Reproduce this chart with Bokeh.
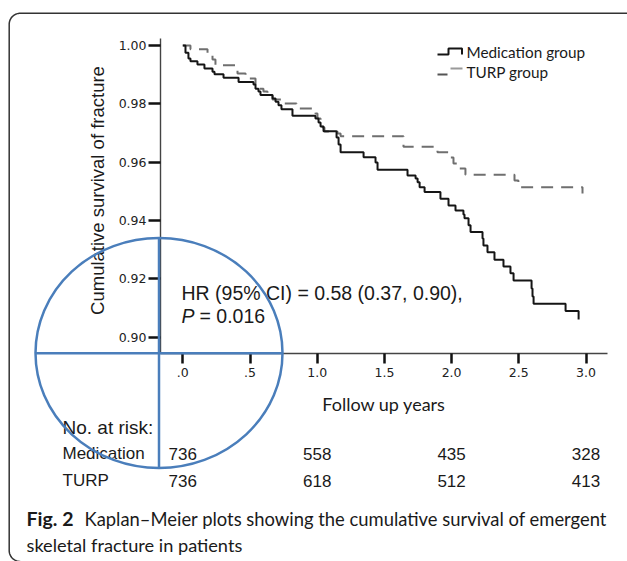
import numpy as np
from bokeh.plotting import figure
from bokeh.models import Range1d, FixedTicker, PrintfTickFormatter, CustomJSTickFormatter
from bokeh.core.properties import value
from bokeh.embed import file_html
from bokeh.resources import INLINE

# ---------------- data ----------------
med_t = [0.000, 0.020, 0.042, 0.057, 0.109, 0.161, 0.221, 0.236, 0.303, 0.415, 0.526, 0.541,
         0.563, 0.578, 0.668, 0.690, 0.712, 0.734, 0.816, 0.987, 1.010, 1.025, 1.047, 1.144,
         1.159, 1.174, 1.345, 1.434, 1.449, 1.672, 1.732, 1.747, 1.762, 1.799, 1.917, 1.977,
         2.029, 2.088, 2.096, 2.126, 2.141, 2.230, 2.237, 2.267, 2.319, 2.386, 2.438, 2.461,
         2.595, 2.602, 2.610, 2.848, 2.945]
med_s = [1.0000, 0.9975, 0.9955, 0.9946, 0.9935, 0.9921, 0.9910, 0.9901, 0.9889, 0.9875, 0.9866, 0.9852,
         0.9842, 0.9830, 0.9818, 0.9807, 0.9795, 0.9781, 0.9759, 0.9750, 0.9736, 0.9722, 0.9706, 0.9684,
         0.9660, 0.9634, 0.9617, 0.9599, 0.9574, 0.9554, 0.9544, 0.9531, 0.9514, 0.9497, 0.9474, 0.9451,
         0.9434, 0.9420, 0.9407, 0.9383, 0.9360, 0.9338, 0.9314, 0.9291, 0.9265, 0.9242, 0.9219, 0.9194,
         0.9166, 0.9139, 0.9114, 0.9089, 0.9060]

turp_t = [0.000, 0.057, 0.184, 0.221, 0.243, 0.392, 0.407, 0.467, 0.541, 0.571, 0.600, 0.630,
          0.667, 0.742, 0.846, 0.987, 1.002, 1.025, 1.040, 1.054, 1.151, 1.174, 1.642, 1.895,
          1.991, 2.014, 2.051, 2.103, 2.468, 2.497, 2.974]
turp_s = [1.0000, 0.9987, 0.9973, 0.9952, 0.9932, 0.9918, 0.9904, 0.9887, 0.9866, 0.9852, 0.9842, 0.9829,
          0.9815, 0.9801, 0.9784, 0.9767, 0.9750, 0.9732, 0.9719, 0.9705, 0.9698, 0.9689, 0.9653, 0.9634,
          0.9616, 0.9595, 0.9578, 0.9557, 0.9537, 0.9514, 0.9492]

risk_times = [0, 1, 2, 3]
risk_med = [736, 558, 435, 328]
risk_turp = [736, 618, 512, 413]

x_ticks = [0.0, 0.5, 1.0, 1.5, 2.0, 2.5, 3.0]
y_ticks = [0.90, 0.92, 0.94, 0.96, 0.98, 1.00]

series_names = ["Medication group", "TURP group"]
hr_text = "HR (95% CI) = 0.58 (0.37, 0.90),"
p_text = "= 0.016"
risk_title = "No. at risk:"
risk_rows = ["Medication", "TURP"]
x_label = "Follow up years"
y_label = "Cumulative survival of fracture"
cap_bold = "Fig. 2"
cap_line1 = "Kaplan\u2013Meier plots showing the cumulative survival of emergent"
cap_line2 = "skeletal fracture in patients"

# ---------------- layout helpers (page pixel -> data) ----------------
W, H = 627, 561
X0, XS = 182.3, 134.4     # page px of t = 0, px per year
Y0, YS = 45.0, 2915.0     # page px of S = 1, px per unit of survival


def tx(px):
    return (px - X0) / XS


def sy(py):
    return 1 - (py - Y0) / YS


p = figure(width=W, height=H, x_range=Range1d(tx(0), tx(W)), y_range=Range1d(sy(H), sy(0)),
           output_backend="svg", toolbar_location=None, min_border=0, outline_line_color=None,
           background_fill_color="white", border_fill_color="white")
p.grid.visible = False

AX_LEFT, AX_RIGHT, AX_TOP, AX_BOTTOM = 160, 607, 38, 352.7

xa = p.xaxis[0]
xa.fixed_location = sy(AX_BOTTOM)
xa.bounds = (tx(AX_LEFT), tx(AX_RIGHT))
xa.ticker = FixedTicker(ticks=x_ticks)
xa.formatter = CustomJSTickFormatter(code="return tick.toFixed(1).replace(/^0/, '')")
xa.axis_line_color = "#444444"
xa.axis_line_width = 1.4
xa.major_tick_in = 0
xa.major_tick_out = 10
xa.major_tick_line_width = 2.5
xa.major_tick_line_color = "#111111"
xa.minor_tick_line_color = None
xa.major_label_text_font = "DejaVu Sans"
xa.major_label_text_font_size = "12.5px"
xa.major_label_text_color = "#222222"
xa.major_label_standoff = 5

ya = p.yaxis[0]
ya.fixed_location = tx(AX_LEFT)
ya.bounds = (sy(AX_BOTTOM), sy(AX_TOP))
ya.ticker = FixedTicker(ticks=y_ticks)
ya.formatter = PrintfTickFormatter(format="%.2f")
ya.axis_line_color = "#444444"
ya.axis_line_width = 1.4
ya.major_tick_in = 0
ya.major_tick_out = 12
ya.major_tick_line_width = 2.5
ya.major_tick_line_color = "#111111"
ya.minor_tick_line_color = None
ya.major_label_text_font = "DejaVu Sans"
ya.major_label_text_font_size = "12.5px"
ya.major_label_text_color = "#222222"
ya.major_label_standoff = 2

# ---------------- survival curves ----------------
p.step(turp_t, turp_s, mode="after", line_color="#6f6f6f", line_width=2, line_dash="12 8")
p.step(med_t, med_s, mode="after", line_color="#151515", line_width=2)

# ---------------- legend (drawn) ----------------
p.line([tx(437), tx(448), tx(448), tx(461.5), tx(461.5)],
       [sy(54), sy(54), sy(48), sy(48), sy(54)], line_color="#151515", line_width=2)
p.line([tx(437), tx(447)], [sy(74), sy(74)], line_color="#555555", line_width=2)
p.line([tx(450), tx(462)], [sy(68), sy(68)], line_color="#9a9a9a", line_width=2)
p.text(x=[tx(466), tx(466)], y=[sy(51), sy(71.5)], text=series_names, text_font=value("Lato"),
       text_font_size="15.3px", text_color="#1a1a1a", text_align="left", text_baseline="middle")

# ---------------- axis labels ----------------
p.text(x=[tx(383.5)], y=[sy(403)], text=[x_label], text_font=value("Lato"), text_font_size="18px",
       text_color="#1a1a1a", text_align="center", text_baseline="middle")
p.text(x=[tx(97)], y=[sy(190)], text=[y_label], angle=np.pi / 2, text_font=value("Liberation Sans"),
       text_font_size="18.5px", text_color="#1a1a1a", text_align="center", text_baseline="middle")

# ---------------- HR annotation ----------------
p.text(x=[tx(181)], y=[sy(292.5)], text=[hr_text], text_font=value("Liberation Sans"),
       text_font_size="19.5px", text_color="#1a1a1a", text_align="left", text_baseline="alphabetic")
p.text(x=[tx(181)], y=[sy(315)], text=["P"], text_font=value("Liberation Sans"), text_font_style="italic",
       text_font_size="19.5px", text_color="#1a1a1a", text_align="left", text_baseline="alphabetic")
p.text(x=[tx(199)], y=[sy(315)], text=[p_text], text_font=value("Liberation Sans"),
       text_font_size="19.5px", text_color="#1a1a1a", text_align="left", text_baseline="alphabetic")

# ---------------- number at risk ----------------
p.text(x=[tx(62)], y=[sy(426.5)], text=[risk_title], text_font=value("Liberation Sans"),
       text_font_size="19px", text_color="#1a1a1a", text_align="left", text_baseline="middle")
p.text(x=[tx(62), tx(62)], y=[sy(453), sy(480)], text=risk_rows, text_font=value("Liberation Sans"),
       text_font_size="17px", text_color="#1a1a1a", text_align="left", text_baseline="middle")
p.text(x=risk_times, y=[sy(453)] * len(risk_times), text=[str(v) for v in risk_med],
       text_font=value("Liberation Sans"), text_font_size="17px", text_color="#1a1a1a",
       text_align="center", text_baseline="middle")
p.text(x=risk_times, y=[sy(480)] * len(risk_times), text=[str(v) for v in risk_turp],
       text_font=value("Liberation Sans"), text_font_size="17px", text_color="#1a1a1a",
       text_align="center", text_baseline="middle")

# ---------------- caption ----------------
p.text(x=[tx(26)], y=[sy(518)], text=[cap_bold], text_font=value("Lato"), text_font_style="bold",
       text_font_size="19.5px", text_color="#1a1a1a", text_align="left", text_baseline="middle")
p.text(x=[tx(84)], y=[sy(518)], text=[cap_line1], text_font=value("Lato"),
       text_font_size="18.4px", text_color="#1a1a1a", text_align="left", text_baseline="middle")
p.text(x=[tx(26)], y=[sy(544)], text=[cap_line2], text_font=value("Lato"),
       text_font_size="18.2px", text_color="#1a1a1a", text_align="left", text_baseline="middle")

# ---------------- frame border (rounded left corners) ----------------
r = 11.0
ang_top = np.linspace(np.pi, 1.5 * np.pi, 20)
ang_bot = np.linspace(0.5 * np.pi, np.pi, 20)[::-1]
bx = ([19.7 + r * np.cos(a) for a in ang_bot[::-1]][::-1])
bx = list(19.7 + r * np.cos(ang_bot[::-1])) + list(19.7 + r * np.cos(ang_top)) + [W]
by = list(550.0 + r * np.sin(ang_bot[::-1])) + list(23.8 + r * np.sin(ang_top)) + [12.8]
p.line([tx(v) for v in bx], [sy(v) for v in by], line_color="#333333", line_width=1.5)

# ---------------- blue ellipse with cross-hair ----------------
p.ellipse(x=[tx(158.5)], y=[sy(352.5)], width=[247 / XS], height=[230 / YS], fill_color=None,
          line_color="#4A7EBB", line_width=2.5, level="overlay")
p.segment(x0=[tx(35), tx(158.5)], y0=[sy(352.7), sy(238)], x1=[tx(282), tx(158.5)], y1=[sy(352.7), sy(467)],
          line_color="#4A7EBB", line_width=2.5, level="overlay")

open("out.html", "w").write(file_html(p, INLINE))
